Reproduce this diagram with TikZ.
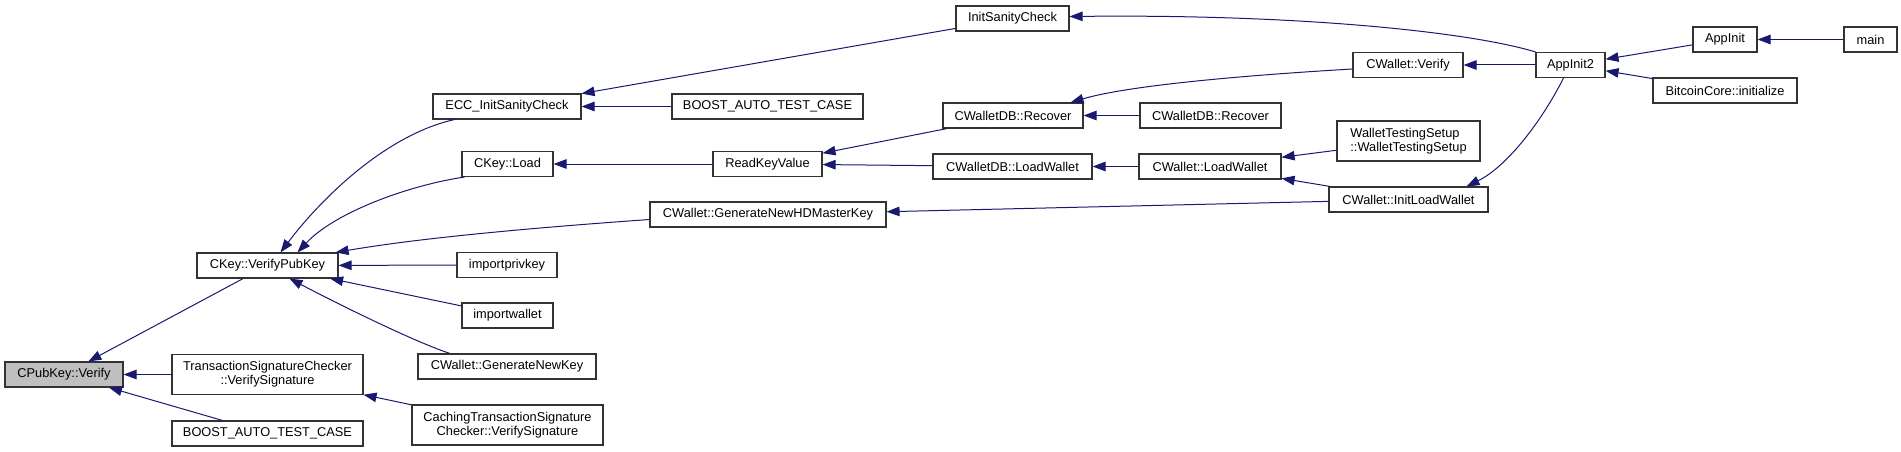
\documentclass[tikz,border=0pt]{standalone}
\usepackage{fontspec}
\setmainfont{Liberation Sans}
\usetikzlibrary{arrows.meta}

\definecolor{edgeblue}{HTML}{191970}
\definecolor{nodegray}{HTML}{BFBFBF}

\begin{document}
\begin{tikzpicture}[x=1pt, y=-1pt, >={Triangle[length=13pt,width=9.5pt]},
    fn/.style={draw=black!80, line width=1.1pt, fill=white, minimum height=25pt,
      inner sep=0pt, align=center, font=\fontsize{12.8}{14}\selectfont},
    fntwo/.style={fn, minimum height=40pt},
    edge/.style={->, draw=edgeblue, line width=1pt}]
    \useasboundingbox (0,0) rectangle (1901,452);

    % Nút gốc
    \node[fn, fill=nodegray, minimum width=118pt] (cpv) at (64,374.5) {CPubKey::Verify};

    % Cột 2
    \node[fn, minimum width=141pt] (vpk) at (267.5,265.5) {CKey::VerifyPubKey};
    \node[fntwo, minimum width=191pt] (tsc) at (267.5,374.5) {TransactionSignatureChecker\\::VerifySignature};
    \node[fn, minimum width=191pt] (batcA) at (267.5,433.5) {BOOST\_AUTO\_TEST\_CASE};

    % Cột 3
    \node[fn, minimum width=148pt] (ecc) at (507,106.5) {ECC\_InitSanityCheck};
    \node[fn, minimum width=91pt] (load) at (507.5,164) {CKey::Load};
    \node[fn, minimum width=100pt] (ipk) at (507,265) {importprivkey};
    \node[fn, minimum width=91pt] (iw) at (507.5,315.5) {importwallet};
    \node[fn, minimum width=178pt] (gnk) at (507,366.5) {CWallet::GenerateNewKey};
    \node[fntwo, minimum width=191pt] (ctsc) at (507.5,425) {CachingTransactionSignature\\Checker::VerifySignature};

    % Cột 4
    \node[fn, minimum width=191pt] (batcB) at (767.5,106.5) {BOOST\_AUTO\_TEST\_CASE};
    \node[fn, minimum width=109pt] (rkv) at (767.5,164) {ReadKeyValue};
    \node[fn, minimum width=236pt] (hdm) at (768,214.5) {CWallet::GenerateNewHDMasterKey};

    % Cột 5
    \node[fn, minimum width=113pt] (isc) at (1012.5,18.5) {InitSanityCheck};
    \node[fn, minimum width=140pt] (recA) at (1013,115.5) {CWalletDB::Recover};
    \node[fn, minimum width=159pt] (dblw) at (1012.5,166.5) {CWalletDB::LoadWallet};

    % Cột 6
    \node[fn, minimum width=141pt] (recB) at (1210.5,115.5) {CWalletDB::Recover};
    \node[fn, minimum width=142pt] (wlw) at (1210,166.5) {CWallet::LoadWallet};

    % Cột 7
    \node[fn, minimum width=110pt] (wver) at (1408,65) {CWallet::Verify};
    \node[fntwo, minimum width=143pt, align=left] (wts) at (1408.5,141) {WalletTestingSetup\\::WalletTestingSetup};
    \node[fn, minimum width=159pt] (ilw) at (1408.5,199.5) {CWallet::InitLoadWallet};

    % Cột 8 đến 10
    \node[fn, minimum width=69pt] (aitwo) at (1570.5,65) {AppInit2};
    \node[fn, minimum width=64pt] (ai) at (1725,39.5) {AppInit};
    \node[fn, minimum width=144pt] (bci) at (1725,90.5) {BitcoinCore::initialize};
    \node[fn, minimum width=53pt] (main) at (1870.5,39.5) {main};

    % Các cạnh vào CPubKey::Verify
    \draw[edge] (vpk) -- (cpv);
    \draw[edge] (tsc) -- (cpv);
    \draw[edge] (batcA) -- (cpv);
    \draw[edge] (ctsc) -- (tsc);

    % Các cạnh vào CKey::VerifyPubKey
    \draw[edge] ([xshift=22pt]ecc.south west) .. controls (385,135) and (320,200) .. ([xshift=13pt]vpk.north);
    \draw[edge] ([xshift=3pt]load.south west) .. controls (410,185) and (335,212) .. ([xshift=30pt]vpk.north);
    \draw[edge] ([yshift=-5pt]hdm.west) .. controls (530,228) and (420,238) .. ([xshift=-3pt]vpk.north east);
    \draw[edge] (ipk) -- (vpk);
    \draw[edge] (iw) -- (vpk);
    \draw[edge] ([xshift=-57pt]gnk.north) .. controls (415,342) and (340,305) .. ([xshift=22pt]vpk.south);

    % Nhánh ECC và ReadKeyValue
    \draw[edge] (isc) -- (ecc);
    \draw[edge] (batcB) -- (ecc);
    \draw[edge] (rkv) -- (load);
    \draw[edge] (recA) -- (rkv);
    \draw[edge] (dblw) -- (rkv);
    \draw[edge] (ilw) -- (hdm);

    % Nhánh ví
    \draw[edge] ([yshift=-4pt]wver.west) .. controls (1250,75) and (1130,85) .. ([xshift=-13pt]recA.north east);
    \draw[edge] (recB) -- (recA);
    \draw[edge] (wlw) -- (dblw);
    \draw[edge] (wts) -- (wlw);
    \draw[edge] (ilw) -- (wlw);

    % Nhánh AppInit2
    \draw[edge] (aitwo.north west) .. controls (1470,32) and (1300,14) .. ([yshift=2pt]isc.east);
    \draw[edge] (aitwo) -- (wver);
    \draw[edge] ([xshift=-7pt]aitwo.south) .. controls (1545,115) and (1510,165) .. ([xshift=-22pt]ilw.north east);
    \draw[edge] (ai) -- (aitwo);
    \draw[edge] (bci) -- (aitwo);
    \draw[edge] (main) -- (ai);
\end{tikzpicture}
\end{document}
